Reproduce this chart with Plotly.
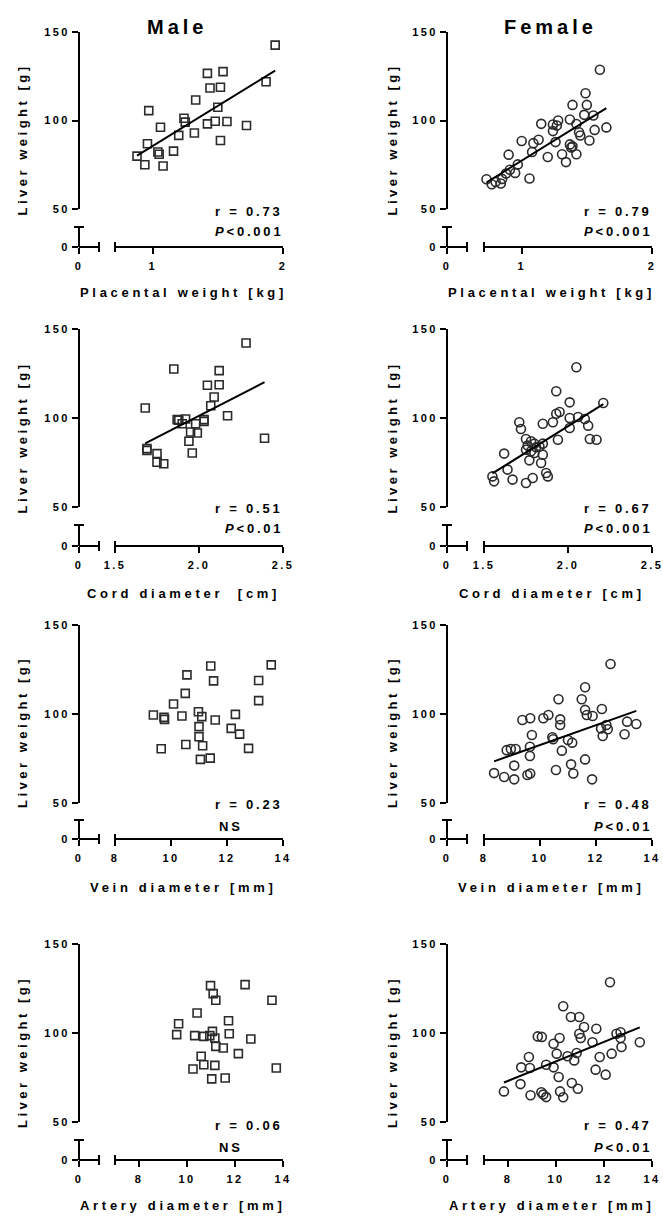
import numpy as np
import plotly.graph_objects as go

W, H = 663, 1216
OFF = 0  # body margin is removed in the page, so the figure sits at the window's corner
FONT = "Liberation Sans, Arial, sans-serif"
INK = "#000000"
MARK = "#2b2b2b"

# ---------------- data ----------------
male_placenta_kg = [1.94, 1.87, 1.42, 1.54, 1.44, 1.52, 1.33, 1.50, 0.97, 1.24, 1.25, 1.42, 1.48,
                    1.57, 1.72, 1.06, 1.20, 1.32, 1.52, 0.96, 1.04, 1.05, 1.16, 0.88, 0.94, 1.08]
male_placenta_liver = [142.6, 121.9, 126.6, 127.6, 118.4, 118.8, 111.6, 107.5, 105.6, 101.3, 99.1, 98.1, 99.6,
                       99.4, 97.2, 96.2, 91.6, 92.9, 88.7, 86.9, 82.2, 80.9, 82.7, 79.9, 75.0, 74.3]

female_placenta_kg = [1.60, 1.49, 1.39, 1.50, 1.48, 1.55, 1.37, 1.28, 1.24, 1.27, 1.15, 1.42, 1.56, 1.65,
                      1.44, 1.45, 1.52, 1.24, 1.26, 1.13, 1.00, 1.09, 1.08, 1.37, 1.39, 1.38, 1.31, 1.42,
                      1.20, 1.34, 0.90, 0.97, 0.91, 0.95, 0.88, 1.06, 0.73, 0.77, 0.80, 0.84, 0.85]
female_placenta_liver = [128.7, 115.4, 108.8, 108.8, 103.2, 102.8, 100.6, 100.0, 97.7, 97.2, 98.1, 98.0, 94.7, 96.1,
                         93.4, 91.5, 88.7, 94.0, 87.8, 89.1, 88.4, 87.2, 82.2, 86.5, 85.4, 84.8, 80.9, 80.9,
                         79.4, 76.5, 80.7, 75.2, 72.2, 70.4, 70.0, 67.2, 66.8, 64.0, 65.3, 64.4, 67.0]

male_cord_cm = [2.28, 1.85, 2.12, 2.05, 2.12, 2.09, 2.07, 1.68, 2.17, 1.87, 1.88, 1.92, 2.03,
                2.03, 1.98, 1.90, 2.39, 1.95, 1.99, 1.94, 1.96, 1.69, 1.69, 1.75, 1.75, 1.79]
male_cord_liver = [142.1, 127.5, 126.6, 118.4, 118.7, 111.8, 106.9, 105.6, 101.3, 99.1, 98.7, 99.4, 99.1,
                   98.1, 96.8, 96.8, 88.6, 92.1, 91.6, 86.9, 80.3, 82.8, 81.8, 80.0, 75.1, 74.3]

female_cord_cm = [2.05, 1.93, 2.01, 2.21, 1.95, 1.93, 2.01, 2.06, 2.10, 1.71, 1.72, 1.85, 1.91, 2.01,
                  2.12, 2.13, 2.17, 1.94, 1.75, 1.78, 1.80, 1.85, 1.75, 1.78, 1.80, 1.85, 1.62, 1.77,
                  1.84, 1.64, 1.67, 1.55, 1.56, 1.75, 1.79, 1.87, 1.88, 1.81, 1.76, 1.83]
female_cord_liver = [128.5, 115.0, 108.8, 108.4, 103.4, 102.4, 100.0, 100.6, 99.4, 97.6, 93.8, 96.8, 97.6, 94.4,
                     95.7, 88.2, 87.8, 87.8, 88.2, 86.9, 85.6, 85.6, 82.2, 81.3, 80.3, 79.4, 80.0, 76.2,
                     74.7, 71.0, 65.4, 67.2, 64.4, 63.5, 66.3, 69.1, 67.2, 83.5, 84.5, 84.0]

male_vein_mm = [13.58, 11.42, 10.57, 11.52, 13.13, 10.51, 13.13, 10.09, 9.37, 9.75, 9.77, 10.39, 10.98,
                11.10, 11.58, 12.30, 11.00, 12.15, 12.45, 11.00, 10.53, 11.13, 12.77, 9.65, 11.05, 11.40]
male_vein_liver = [127.6, 127.0, 122.0, 118.6, 118.8, 111.6, 107.5, 105.6, 99.4, 98.1, 97.0, 98.9, 101.3,
                   98.5, 96.6, 99.8, 92.9, 91.9, 88.7, 87.2, 82.9, 82.2, 80.7, 80.5, 74.5, 75.2]

female_vein_mm = [12.52, 11.61, 10.66, 11.49, 11.61, 12.21, 11.67, 11.88, 10.30, 10.12, 9.37, 9.65, 10.72,
                  10.72, 9.71, 10.44, 10.47, 11.00, 11.15, 12.42, 12.18, 12.24, 13.11, 13.44, 13.02, 12.37,
                  9.64, 9.64, 8.81, 8.96, 9.13, 10.78, 11.61, 11.11, 9.08, 10.57, 11.19, 9.65, 9.55,
                  8.36, 8.72, 9.08, 11.86]
female_vein_liver = [128.1, 115.0, 108.3, 108.3, 102.3, 102.8, 99.4, 98.9, 99.4, 97.6, 96.6, 97.6, 97.0,
                     93.8, 88.2, 86.9, 85.8, 85.4, 83.9, 91.4, 91.9, 87.6, 95.7, 94.4, 88.6, 93.8,
                     81.6, 76.4, 79.7, 80.3, 80.3, 79.4, 74.5, 71.7, 71.0, 68.5, 66.6, 66.6, 65.7,
                     66.8, 64.6, 63.3, 63.3]

male_artery_mm = [10.98, 12.42, 11.09, 11.20, 13.54, 10.42, 11.73, 9.65, 9.57, 10.32, 10.70, 11.06, 10.95,
                  11.16, 11.76, 12.66, 11.20, 11.51, 12.14, 10.59, 10.70, 11.16, 10.25, 13.72, 11.03, 11.59]
male_artery_liver = [126.6, 127.2, 122.1, 118.4, 118.4, 111.2, 106.9, 105.2, 99.1, 98.5, 98.1, 100.9, 98.5,
                     97.2, 99.6, 96.6, 92.5, 91.6, 88.4, 86.9, 82.2, 81.8, 79.8, 80.3, 74.2, 74.7]

female_artery_mm = [12.25, 10.30, 10.62, 10.97, 11.17, 11.68, 10.97, 11.03, 9.24, 9.41, 10.15, 9.90, 11.52,
                    12.52, 12.69, 12.69, 12.73, 13.49, 12.32, 11.82, 10.86, 10.76, 10.48, 10.03, 8.87,
                    8.55, 8.91, 9.59, 9.90, 10.11, 11.65, 12.07, 8.52, 7.83, 8.94, 9.39, 9.47, 9.59,
                    10.17, 10.30, 10.66, 10.91]
female_artery_liver = [128.5, 115.0, 109.0, 109.0, 103.4, 102.4, 99.6, 97.2, 98.1, 97.8, 97.2, 94.0, 94.8,
                       99.6, 100.4, 97.2, 92.1, 94.8, 88.4, 86.5, 88.8, 84.6, 86.9, 88.4, 86.5,
                       80.7, 80.3, 82.2, 80.7, 75.3, 79.4, 76.6, 71.3, 67.2, 65.0, 66.7, 65.4, 64.0,
                       67.2, 63.9, 71.9, 68.7]

column_titles = ["Male", "Female"]
y_title = "Liver weight [g]"
y_tickvals = [50, 100, 150]
y_ticktext = ["50", "100", "150"]

# ---------------- layout constants (window pixels) ----------------
ROWS = [
    dict(y150=32, y50=209, ycap=227, y0=247, r_y=212, p_y=232, xt_y=293),
    dict(y150=329, y50=507, ycap=525, y0=546, r_y=508, p_y=528, xt_y=593),
    dict(y150=625, y50=803, ycap=820, y0=839, r_y=804, p_y=826, xt_y=887),
    dict(y150=944, y50=1122, ycap=1140, y0=1160, r_y=1125, p_y=1147, xt_y=1205),
]
COLS = [
    dict(x0=79, xcap=99, xs=115, xe=283, yt_x=22, title_x=177, ns_x=217, symbol="square-open", size=8),
    dict(x0=447, xcap=467, xs=484, xe=652, yt_x=392, title_x=550, ns_x=587, symbol="circle-open", size=9),
]

panels = [
    dict(row=0, col=0, x=male_placenta_kg, y=male_placenta_liver, fit=True,
         xr=[0.711, 2], tv=[1, 2], tt=["1", "2"], xtitle="Placental weight [kg]", r="r = 0.73", p="P<0.001"),
    dict(row=0, col=1, x=female_placenta_kg, y=female_placenta_liver, fit=True,
         xr=[0.711, 2], tv=[1, 2], tt=["1", "2"], xtitle="Placental weight [kg]", r="r = 0.79", p="P<0.001"),
    dict(row=1, col=0, x=male_cord_cm, y=male_cord_liver, fit=True,
         xr=[1.5, 2.5], tv=[1.5, 2.0, 2.5], tt=["1.5", "2.0", "2.5"], xtitle="Cord diameter\u00a0 [cm]",
         r="r = 0.51", p="P<0.01"),
    dict(row=1, col=1, x=female_cord_cm, y=female_cord_liver, fit=True,
         xr=[1.5, 2.5], tv=[1.5, 2.0, 2.5], tt=["1.5", "2.0", "2.5"], xtitle="Cord diameter [cm]",
         r="r = 0.67", p="P<0.001"),
    dict(row=2, col=0, x=male_vein_mm, y=male_vein_liver, fit=False,
         xr=[8, 14], tv=[8, 10, 12, 14], tt=["8", "10", "12", "14"], xtitle="Vein diameter [mm]",
         r="r = 0.23", p="NS"),
    dict(row=2, col=1, x=female_vein_mm, y=female_vein_liver, fit=True,
         xr=[8, 14], tv=[8, 10, 12, 14], tt=["8", "10", "12", "14"], xtitle="Vein diameter [mm]",
         r="r = 0.48", p="P<0.01"),
    dict(row=3, col=0, x=male_artery_mm, y=male_artery_liver, fit=False,
         xr=[7, 14], tv=[8, 10, 12, 14], tt=["8", "10", "12", "14"], xtitle="Artery diameter [mm]",
         r="r = 0.06", p="NS"),
    dict(row=3, col=1, x=female_artery_mm, y=female_artery_liver, fit=True,
         xr=[7, 14], tv=[8, 10, 12, 14], tt=["8", "10", "12", "14"], xtitle="Artery diameter [mm]",
         r="r = 0.47", p="P<0.01"),
]


def fx(px):
    return (px - OFF) / W


def fy(py):
    return 1 - (py - OFF) / H


def sp(text, s):
    return f"<span style='letter-spacing:{s}px'>{text}</span>"


def akey(letter, n):
    return f"{letter}axis" if n == 1 else f"{letter}axis{n}"


def aref(letter, n):
    return letter if n == 1 else f"{letter}{n}"


TICKFONT = dict(family=FONT, size=11, color=INK, weight="bold")
TICK_LS = 2.4
common = dict(showline=True, linecolor=INK, linewidth=2, ticks="outside", ticklen=6, tickwidth=2,
              tickcolor=INK, showgrid=False, zeroline=False, fixedrange=True, tickfont=TICKFONT,
              tickmode="array", automargin=False, ticklabeloverflow="allow")

fig = go.Figure()
layout = {}
shapes = []
annotations = []

for i, p in enumerate(panels):
    R, C = ROWS[p["row"]], COLS[p["col"]]
    nm, ns = 2 * i + 1, 2 * i + 2

    # main axes
    layout[akey("x", nm)] = dict(common, domain=[fx(C["xs"]), fx(C["xe"])], range=p["xr"],
                                 anchor="free", position=fy(R["y0"]), tickvals=p["tv"],
                                 ticktext=[sp(t, TICK_LS) for t in p["tt"]], ticklabelstandoff=3)
    layout[akey("y", nm)] = dict(common, domain=[fy(R["y50"]), fy(R["y150"])], range=[50, 150],
                                 anchor="free", position=fx(C["x0"]), tickvals=y_tickvals,
                                 ticktext=[sp(t, TICK_LS) for t in y_ticktext])
    # short broken-axis segments near zero
    layout[akey("x", ns)] = dict(common, domain=[fx(C["x0"]), fx(C["xcap"])], range=[0, 1],
                                 anchor="free", position=fy(R["y0"]), tickvals=[0],
                                 ticktext=[sp("0", TICK_LS)], ticklabelstandoff=3)
    layout[akey("y", ns)] = dict(common, domain=[fy(R["y0"]), fy(R["ycap"])], range=[0, 1],
                                 anchor="free", position=fx(C["x0"]), tickvals=[0],
                                 ticktext=[sp("0", TICK_LS)])

    fig.add_trace(go.Scatter(x=[None], y=[None], xaxis=aref("x", ns), yaxis=aref("y", ns),
                             mode="markers", hoverinfo="skip", showlegend=False))
    fig.add_trace(go.Scatter(x=p["x"], y=p["y"], mode="markers", xaxis=aref("x", nm), yaxis=aref("y", nm),
                             marker=dict(symbol=C["symbol"], size=C["size"], color=MARK,
                                         line=dict(width=1.6, color=MARK)),
                             cliponaxis=False, showlegend=False, hoverinfo="skip"))
    if p["fit"]:
        xs = np.asarray(p["x"], dtype=float)
        ys = np.asarray(p["y"], dtype=float)
        slope, icpt = np.polyfit(xs, ys, 1)
        xf = np.array([xs.min(), xs.max()])
        fig.add_trace(go.Scatter(x=xf, y=slope * xf + icpt, mode="lines", xaxis=aref("x", nm),
                                 yaxis=aref("y", nm), line=dict(color=INK, width=2),
                                 showlegend=False, hoverinfo="skip"))

    # break caps
    cap = 5
    shapes.append(dict(type="line", xref="paper", yref="paper", x0=fx(C["x0"] - cap), x1=fx(C["x0"] + cap),
                       y0=fy(R["ycap"]), y1=fy(R["ycap"]), line=dict(color=INK, width=2)))
    shapes.append(dict(type="line", xref="paper", yref="paper", x0=fx(C["xcap"]), x1=fx(C["xcap"]),
                       y0=fy(R["y0"] - cap), y1=fy(R["y0"] + cap), line=dict(color=INK, width=2)))
    shapes.append(dict(type="line", xref="paper", yref="paper", x0=fx(C["xs"]), x1=fx(C["xs"]),
                       y0=fy(R["y0"] - cap), y1=fy(R["y0"] + cap), line=dict(color=INK, width=2)))

    # texts
    annotations.append(dict(xref="paper", yref="paper", x=fx(C["yt_x"]), y=fy((R["y150"] + R["y0"]) / 2),
                            text="<b>" + sp(y_title, 3.5) + "</b>", textangle=-90, showarrow=False,
                            xanchor="center", yanchor="middle", font=dict(family=FONT, size=13, color=INK)))
    annotations.append(dict(xref="paper", yref="paper", x=fx((C["x0"] + C["xe"]) / 2 + 2), y=fy(R["xt_y"]),
                            text="<b>" + sp(p["xtitle"], 3.7) + "</b>", showarrow=False,
                            xanchor="center", yanchor="middle", font=dict(family=FONT, size=13, color=INK)))
    annotations.append(dict(xref="paper", yref="paper", x=fx(C["xe"] + 2), y=fy(R["r_y"]),
                            text="<b>" + sp(p["r"], 2.8) + "</b>", showarrow=False,
                            xanchor="right", yanchor="middle", font=dict(family=FONT, size=13, color=INK)))
    if p["p"] == "NS":
        annotations.append(dict(xref="paper", yref="paper", x=fx(C["ns_x"]), y=fy(R["p_y"]),
                                text="<b>" + sp("NS", 2.8) + "</b>", showarrow=False,
                                xanchor="left", yanchor="middle", font=dict(family=FONT, size=13, color=INK)))
    else:
        ptxt = "<i>P</i>" + p["p"][1:].replace("<", "&lt;")
        annotations.append(dict(xref="paper", yref="paper", x=fx(C["xe"] + 2), y=fy(R["p_y"]),
                                text="<b>" + sp(ptxt, 2.8) + "</b>", showarrow=False,
                                xanchor="right", yanchor="middle", font=dict(family=FONT, size=13, color=INK)))

for c, t in enumerate(column_titles):
    annotations.append(dict(xref="paper", yref="paper", x=fx(COLS[c]["title_x"]), y=fy(27),
                            text="<b>" + sp(t, 4) + "</b>", showarrow=False, xanchor="center",
                            yanchor="middle", font=dict(family=FONT, size=20, color=INK)))

fig.update_layout(width=W, height=H, margin=dict(l=0, r=0, t=0, b=0, pad=0, autoexpand=False),
                  paper_bgcolor="white", plot_bgcolor="white", showlegend=False, hovermode=False,
                  shapes=shapes, annotations=annotations, **layout)
fig.write_html("out.html", config={"displayModeBar": False, "staticPlot": True},
               post_script="document.body.style.margin='0';document.body.style.overflow='hidden';")
